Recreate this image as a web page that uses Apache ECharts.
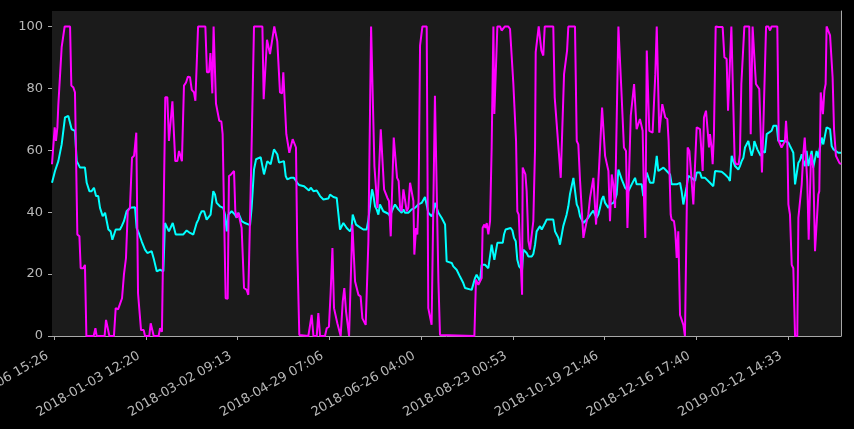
<!DOCTYPE html>
<html>
<head>
<meta charset="utf-8">
<script src="https://cdn.jsdelivr.net/npm/echarts@6/dist/echarts.min.js"></script>
<style>
html,body{margin:0;padding:0;background:#000;}
#chart{width:854px;height:429px;}
</style>
</head>
<body>
<div id="chart"></div>
<script>
// Time origin of the series (UTC) and length in days
const startDate = '2017-11-05 04:40';
const spanDays = 498;

// X tick labels
const xTickLabels = ['2017-11-06 15:26','2018-01-03 12:20','2018-03-02 09:13','2018-04-29 07:06','2018-06-26 04:00','2018-08-23 00:53','2018-10-19 21:46','2018-12-16 17:40','2019-02-12 14:33'];
// Y tick labels
const yTicks = [0, 20, 40, 60, 80, 100];

// Magenta series: [days since start, value]
const magentaSeries = [[0,55.5],[0.8,55.5],[1.7,67.4],[2.5,63],[3.4,67.4],[4,74.7],[5,74.9],[6.1,93.3],[7.2,93.8],[8,100],[11.4,100],[12.2,80.9],[13.5,80.3],[14.5,78.7],[15.4,78.7],[16,32.8],[17.3,32.2],[18.1,21.9],[19.8,21.9],[20.8,23],[21.7,0],[26.3,0],[27.4,2.5],[28.2,0],[33.2,0],[34.1,5.2],[35.3,5.2],[36.2,0],[39.1,0],[40.2,9],[41.7,8.6],[42.9,9],[44.2,12.2],[45.4,19.8],[46.7,25.2],[47.8,40.3],[49.2,41.4],[50.5,57.6],[51.8,58.2],[52.4,57.6],[53.2,65.7],[54.3,13.8],[55.5,13.3],[56.2,1.9],[57.9,1.9],[58.7,0],[61.4,0],[62.3,4.1],[63.3,4.1],[64.2,0],[67.3,0],[68.2,2.5],[69.4,1.4],[70.5,0.9],[71.5,77.1],[72.8,77.1],[73.8,63],[74.9,63],[76,75.8],[77,75.8],[77.8,56.5],[79.1,56.5],[80.2,59.8],
[82,56.5],[83.3,80.9],[84.6,81.9],[85.8,83.8],[87.1,83.6],[88.2,79.5],[89.6,78.7],[90.5,76],[91.3,75.8],[92.2,100],[96.8,100],[97.8,85.2],[99.1,85.2],[100,91.4],[100.6,85.2],[101.2,78.4],[102,100],[102.7,100],[103.5,75.1],[104.6,74.7],[105.6,69.5],[106.9,69.3],[107.7,65.2],[108.8,64.6],[109.6,12.2],[110.9,12],[111.7,51.7],[113,52.2],[114,52.8],[114.9,53.3],[115.7,40.3],[116.6,38.2],[117.6,39.8],[118.7,40.1],[119.7,34.9],[121.2,15.5],[122.9,14.9],[123.9,13.3],[125,12.8],[125.8,56.5],[126.7,57.1],[127.5,100],[132.8,100],[133.6,76.5],[134.7,76.5],[135.7,95.7],[136.8,95.5],[137.6,91.1],[138.6,90.9],[140.3,100],[141.2,99.8],[142.2,95.2],[143.1,94.6],[143.9,78.7],[145.2,78.4],[146,85.2],[147.1,85.2],[147.9,65.2],[149,65],[149.8,59.2],[150.6,58.9],[151.9,63.6],[153,63.2],[154,60.9],[154.8,28.4],[156.1,0.3],[161.8,0],
[163.9,6.8],[165,0],[167.1,0],[168.1,7.4],[169.2,0],[172.3,0],[173.4,2.5],[174.8,3],[175.9,14.4],[177,28.4],[178,9],[179.1,9],[180.1,4.1],[181.2,3.6],[182.2,0],[183.5,11.1],[184.5,15.5],[185.6,7.9],[186.6,7.9],[187.5,0],[188.5,0],[189.6,36],[190.6,36],[191.3,17.6],[192.3,17.1],[193.4,13.3],[194.8,12.8],[195.9,5.7],[197,5.2],[198,3.6],[199,3.6],[199.7,30.6],[200.7,31.1],[201.4,100],[202.6,100],[203.5,54.9],[204.5,54.4],[205.4,41.4],[206.4,41.4],[207.5,66.8],[208.5,66.8],[209.6,47.4],[210.6,46.8],[211.7,44.6],[212.7,43.6],[213.8,32.2],[214.8,31.7],[215.7,64.1],[216.7,63.6],[217.8,51.1],[218.8,50.1],[219.7,41.4],[220.7,40.3],[221.8,47.4],[222.8,47.4],[223.9,40.3],[224.9,41.4],[226,49.5],[227,49],[228.1,43.6],[228.7,26.3],[229.8,34.9],[230.6,32.8],[231.4,44.6],[232.3,93.8],[233.8,100],[236.5,100],[237.5,9],[238.6,8.4],[239.6,3.6],[240.7,3.6],[241.7,77.6],[242.8,77.6],[243.9,17.6],[244.9,0.3],
[245.9,0],[266.6,0],[267.6,18.2],[269.1,16.5],[270.1,17.6],[271.2,18.7],[271.8,34.9],[272.9,36],[273.7,34.9],[274.4,36.5],[275.4,32.8],[276.5,37.1],[277.5,60.9],[278.6,100],[279.2,71.7],[280.2,71.7],[281.1,100],[282.8,100],[283.8,98.7],[284.9,99.2],[285.9,100],[288,100],[289.1,99.2],[290.1,98.7],[291.2,81.4],[292.2,80.9],[292.9,63],[293.7,40.3],[294.6,39.2],[295.4,39.2],[296,21.9],[296.7,13.3],[297.1,54.4],[297.9,54.6],[298.8,52.2],[299.6,46.8],[300.7,30.6],[301.7,27.9],[302.8,28.4],[303.8,37.1],[304.9,60.9],[305.3,91.7],[306.3,92.2],[307.2,100],[308,100],[308.9,92.2],[310.1,90.6],[311,100],[316.4,100],[317.3,77.1],[318.5,76.5],[319.2,64.1],[320.2,63.6],[321.1,51.1],[322.3,50.6],[323.2,84.6],[324.4,85.2],[325.1,92.2],[325.9,100],
[330.1,100],[331.2,63],[332.2,61.9],[333.3,50.1],[334.3,41.4],[335.4,31.7],[336.4,32.2],[337.5,37.1],[338.5,39.2],[339.6,44.6],[340.6,45.2],[341.7,51.1],[342.7,50.6],[343.4,36],[344.6,35.5],[345.5,56.5],[346.3,56.5],[347.2,73.8],[348.2,73.8],[349.1,58.2],[350.1,57.6],[351.2,53.3],[352.2,37.1],[353.3,52.2],[354.3,49],[355.4,41.4],[356.4,41.9],[357.5,100],[358.5,100],[359.2,81.4],[360.2,80.9],[361,60.9],[362.3,59.8],[363.2,34.9],[364.4,34.4],[365.3,71.1],[366.3,71.7],[367.4,81.4],[368.2,81.4],[369,66.8],[370.1,66.3],[371.1,70.1],[372.2,70.1],[372.8,66.3],[373.7,43.6],[374.5,31.7],[375.4,92.2],[376.4,91.7],[377,66.3],[378.1,65.7],[379.1,65.7],[380,66.3],[380.8,84.6],[381.7,100],[382.5,100],[383.3,65.7],[384.4,66.3],[385.2,74.9],[386.3,74.4],[387.1,70.6],[388.4,70.1],[389.2,63],[390.5,39.2],[391.1,37.6],[392.6,37.1],[393.4,33.8],[394.3,25.2],[395.3,33.8],[396.4,6.8],[397.4,6.8],[398.5,3.6],[399.5,0],[400.6,0],[401.2,60.9],[402.3,59.8],[403.1,54.4],[404.2,53.8],[404.8,42.5],[405.9,42.5],[406.9,67.4],[408,67.4],
[409,66.8],[410.1,66.3],[410.7,53.3],[411.5,70.6],[412.8,72.8],[413.8,72.2],[414.7,60.9],[415.3,65.2],[416.2,61.4],[417,55.5],[417.8,65.2],[418.9,100],[420.6,99.8],[421.6,100],[423.3,99.8],[424.4,90.1],[425.8,89.5],[426.7,72.8],[427.9,72.2],[428.8,100],[430,100],[430.9,56.5],[431.7,55.5],[432.6,54.9],[433.4,55.5],[434.2,58.7],[435.1,81.4],[435.9,81.9],[437,100],[440.1,100],[441,65.2],[441.6,65.2],[442.2,100],[443.3,100],[444.3,81.4],[445.2,80.9],[446.4,79.8],[447.3,65.7],[448.1,52.8],[449,67.9],[449.8,68.4],[450.7,100],[452.1,100],[453.2,98.7],[454.2,100],[457.8,100],[458.7,63],[459.5,62.5],[460.5,60.9],[461.6,60.3],[462.6,63],[463.3,69.5],[464.1,63],[464.8,42.5],[465.8,39.2],[466.9,23],[467.9,21.9],[469,0],[470.4,0],[471.1,38.2],[472.1,38.7],[473.2,49],[474.2,58.7],[475.1,64.1],[475.9,64.1],[476.7,50.1],[477.6,31.1],[478.4,31.1],[479.1,58.7],[479.9,58.7],[480.5,54.4],[481.6,27.4],[482.6,27.4],[483.7,45.7],[484.3,46.8],[485.2,78.7],[486,78.7],[486.6,71.7],[487.5,79.2],[488.3,81.4],[488.9,100],[490,100],[491.1,97.1],[492.1,96.5],[492.7,83.6],[493.6,66.8],[494.8,58.2],[495.9,57.6],[496.9,56],[498,55.5]];

// Cyan series: [days since start, value]
const cyanSeries = [[0,49.5],[1.9,53.3],[2.9,53.8],[4,56.5],[5,56.5],[6.1,61.9],[7.2,61.9],[8.2,70.6],[10.3,71.1],[11.4,71.1],[12.4,66.8],[14.5,66.3],[15.6,56.5],[17.7,54.4],[20.8,54.4],[21.9,49.5],[23.6,46.8],[25,46.8],[26.5,47.9],[27.8,45.2],[29.2,45.2],[30.3,41.4],[32,38.7],[33.5,39.8],[34.5,39.8],[35.6,34.4],[37,33.8],[38.1,31.1],[39.1,31.1],[40.2,34.4],[42.9,34.4],[44,35.5],[45.4,37.1],[47.1,40.3],[49.2,41.4],[50.3,41.6],[52.4,41.6],[53.4,34.9],[55.1,32.8],[56.6,30.6],[58.7,27.9],[60.2,26.8],[62.9,27.4],[64.4,24.6],[66.1,20.9],[68.2,21.4],[70.3,20.9],[71.3,36.5],[72.4,37.1],[73.8,33.8],[74.9,33.8],[76.2,36.5],[77,36.5],[78.1,32.8],[79.7,32.8],
[80.8,33.3],[82.9,32.8],[85,34.1],[87.1,33.3],[89.2,32.8],[90.3,32.8],[91.3,36.5],[92.4,37.6],[93.4,39.2],[94.5,40.3],[96,40.3],[97.6,37.6],[98.7,37.6],[100.1,39.2],[101.8,46.8],[102.9,45.7],[103.9,43],[106,41.9],[108.1,41.4],[109.2,39.2],[110.3,33.8],[111.3,39.2],[113.4,40.3],[115.5,39.2],[116.6,38.2],[117.6,39.8],[118.7,39.2],[119.7,37.1],[121.8,36.5],[125,35.8],[126,41.4],[127.5,53.8],[128.8,57.1],[131.7,57.8],[132.8,57.6],[133.8,52.2],[134.9,52.2],[135.9,56.5],[137,56.5],[138,55.5],[139.1,55.7],[140.1,60.3],[141.2,60],[142.2,58.7],[143.3,56],[144.3,55.5],[146.4,56.5],[147.5,51.7],[148.5,50.6],[149.6,50.1],[150.6,51.1],[152.7,51.1],[153.8,50.6],[154.8,49.5],[155.9,48.8],[159.1,48.4],[160.1,47.9],[162.2,47],[163.3,47.9],[164.3,48.1],
[165,46.8],[166,46.3],[167.1,47],[168.1,46.8],[169.2,45.2],[171.3,44.1],[174.4,44.4],[175.5,45.7],[176.5,46.3],[177.6,44.9],[179.7,44.6],[180.7,44.1],[181.8,34.4],[182.8,34.4],[183.9,36.5],[186,34.9],[188.1,33.8],[189.1,34.9],[189.8,39.2],[190.8,38.7],[191.9,36],[194.4,35.1],[196.5,34.4],[198.6,34.4],[199.7,37.6],[200.7,37.9],[202,47.4],[202.8,45.7],[203.9,41.9],[204.9,40.9],[206,39.2],[207,42.5],[208.1,42.5],[209.1,40.3],[212.3,39.5],[213.3,38.7],[215.4,41.4],[216.5,42.5],[218.6,40.9],[220.7,39.8],[221.8,40.9],[222.8,39.8],[224.9,39.8],[227,40.9],[228.1,40.3],[229.1,41.4],[231.2,42.5],[233.3,43],[234.4,43.6],[235.4,44.9],[236.5,42.3],[237.5,39.8],[239.6,38.7],[240.7,39.8],[241.7,43],[242.8,41.4],[243.9,39.8],[244.9,39.2],
[245.9,38.2],[247,37.6],[248.1,36],[249.1,24.1],[252.3,23.6],[253.3,22.5],[254.4,21.9],[255.4,21.4],[256.5,20.9],[257.5,19.2],[258.6,18.7],[259.6,17.1],[260.7,15.5],[261.7,14.9],[264.9,14.9],[265.9,14.4],[267,18.7],[268,19.8],[269.1,18.7],[270.1,17.6],[271.2,23],[273.3,23],[275.4,21.9],[276.5,21.9],[277.5,29.5],[278.6,29],[279.2,24.6],[280.2,24.6],[281.1,30.1],[284.5,30.1],[285.3,32.8],[286.3,34.4],[287.4,34.9],[289.5,34.9],[290.6,34.1],[291.6,31.7],[292.7,30.6],[293.7,24.6],[294.8,22.5],[295.8,21.9],[296.7,21.4],[297.5,27.9],[298.5,27.4],[299.6,26.8],[300.7,25.7],[301.7,25.2],[302.8,25.7],[303.8,26.5],[304.9,29.5],[305.9,33.8],[307,34.4],[308,35.5],[309.1,34.4],[310.1,34.9],[311.2,36.5],[312.2,37.6],[316.4,37.6],[317.5,33.8],[318.5,32.8],[319.6,31.7],[320.6,29.5],[321.7,29.7],[322.7,35.5],[323.8,36],[324.8,39.2],[325.9,41.9],[326.9,45.7],
[328,45.2],[329.1,51.1],[330.1,51.1],[331.2,42.5],[332.2,41.4],[333.3,38.7],[334.3,38.2],[335.4,36.5],[336.4,37.1],[338.5,38.2],[339.6,38.7],[340.6,39.8],[341.7,40.5],[342.7,39.2],[343.8,38.2],[344.8,39.2],[345.9,41.4],[347,44.1],[348,45.2],[349.1,43],[351.2,41.4],[352.2,42.5],[354.3,43],[355.4,44.1],[356.4,45.7],[357.5,53.8],[358.5,53.3],[359.6,50.6],[360.6,50.1],[361.7,47.9],[363.8,46.8],[364.8,47.9],[365.9,49],[368,51.1],[369,49],[372.2,49],[373.2,45.2],[374.3,49.5],[375.4,52.8],[376.4,52.8],[377.5,49.5],[379.6,49.5],[380.6,53.3],[381.7,58.2],[382.7,53.3],[383.8,53.8],[385.9,54.4],[388,53.3],[390.1,52.2],[391.1,49],[394.3,49],[395.3,49.5],[396.4,49.5],[397.4,46.8],[398.5,42.5],[399.5,41.9],[400.6,48.4],[401.6,51.7],[402.7,52.2],[403.8,51.1],[405.9,50.1],[406.9,52.8],[409,52.8],
[410.1,51.1],[412.2,51.1],[413.2,50.6],[415.3,49.5],[416.4,49],[417.4,48.4],[418.5,53.3],[422.7,53.1],[424.8,52.2],[426.9,51.1],[427.9,50.1],[429,58.2],[430,57.6],[431.1,54.9],[433.2,53.8],[434.2,54.9],[435.3,56.5],[436.4,57.6],[437.4,60.9],[438.5,61.4],[439.5,63],[440.6,63],[441.6,58.2],[442.7,60.3],[443.3,63],[444.3,62.5],[445.2,60.3],[446.4,60.3],[447.3,58.2],[448.6,59.8],[450,59.2],[451.1,65.2],[454.2,66.3],[455.3,67.9],[457.4,67.9],[458.4,63],[462.6,63],[463.7,63.6],[464.8,62.5],[465.8,61.4],[466.9,60.3],[467.9,59.2],[469,49],[470,49.5],[471.1,56],[472.1,56.8],[473.2,58.7],[474.2,56.5],[475.3,54.9],[476.3,59.8],[477.4,54.9],[478.4,54.9],[479.5,59.8],[480.5,54.4],[481.6,54.9],[482.6,59.8],[483.7,57.6],[484.7,60.9],[485.8,64.1],[486.8,61.9],[487.9,61.9],[488.9,67.4],[491.1,66.8],[492.1,61.4],[493.2,60.3],[496.3,59.2],[498,59.2]];

const DAY = 86400000;
function parseUTC(s) {
  const m = s.match(/(\d+)-(\d+)-(\d+) (\d+):(\d+)/);
  return Date.UTC(+m[1], +m[2] - 1, +m[3], +m[4], +m[5]);
}
function pad(n) { return (n < 10 ? '0' : '') + n; }
function fmt(t) {
  const d = new Date(t);
  return d.getUTCFullYear() + '-' + pad(d.getUTCMonth() + 1) + '-' + pad(d.getUTCDate()) + ' ' + pad(d.getUTCHours()) + ':' + pad(d.getUTCMinutes());
}
const t0 = parseUTC(startDate);
const tEnd = t0 + spanDays * DAY;
const tickTimes = xTickLabels.map(parseUTC);
const toTime = arr => arr.map(p => [t0 + p[0] * DAY, p[1]]);

const axisGray = '#a8a8a8';
const textGray = '#b8b8b8';
const chart = echarts.init(document.getElementById('chart'), null, {renderer: 'canvas'});
chart.setOption({
  backgroundColor: '#000000',
  animation: false,
  grid: {left: 52, right: 13, top: 11, bottom: 93, containLabel: false, outerBoundsMode: 'none',
         show: true, backgroundColor: '#1b1b1b', borderWidth: 0},
  xAxis: {
    type: 'value', min: t0, max: tEnd,
    axisLine: {show: true, lineStyle: {color: axisGray, width: 1}},
    axisTick: {show: true, length: 4, customValues: tickTimes, lineStyle: {color: axisGray}},
    splitLine: {show: false},
    axisLabel: {
      customValues: tickTimes, rotate: 30, margin: 15, padding: [0, 8, 0, 0], hideOverlap: false,
      color: textGray, fontSize: 13, fontFamily: 'DejaVu Sans',
      formatter: v => fmt(v)
    }
  },
  yAxis: [{
    type: 'value', min: 0, max: 105,
    axisLine: {show: false},
    axisTick: {show: true, length: 4, customValues: yTicks, lineStyle: {color: axisGray}},
    splitLine: {show: false},
    axisLabel: {customValues: yTicks, color: textGray, fontSize: 13, fontFamily: 'DejaVu Sans', margin: 9}
  }, {
    type: 'value', min: 0, max: 105, position: 'right',
    axisLine: {show: true, lineStyle: {color: axisGray, width: 1}},
    axisTick: {show: false}, axisLabel: {show: false}, splitLine: {show: false}
  }],
  series: [{
    type: 'line', data: toTime(cyanSeries), showSymbol: false, symbol: 'none',
    lineStyle: {color: '#00ffff', width: 2}, itemStyle: {color: '#00ffff'}
  }, {
    type: 'line', data: toTime(magentaSeries), showSymbol: false, symbol: 'none',
    lineStyle: {color: '#ff00ff', width: 2}, itemStyle: {color: '#ff00ff'}
  }]
});
</script>
</body>
</html>
